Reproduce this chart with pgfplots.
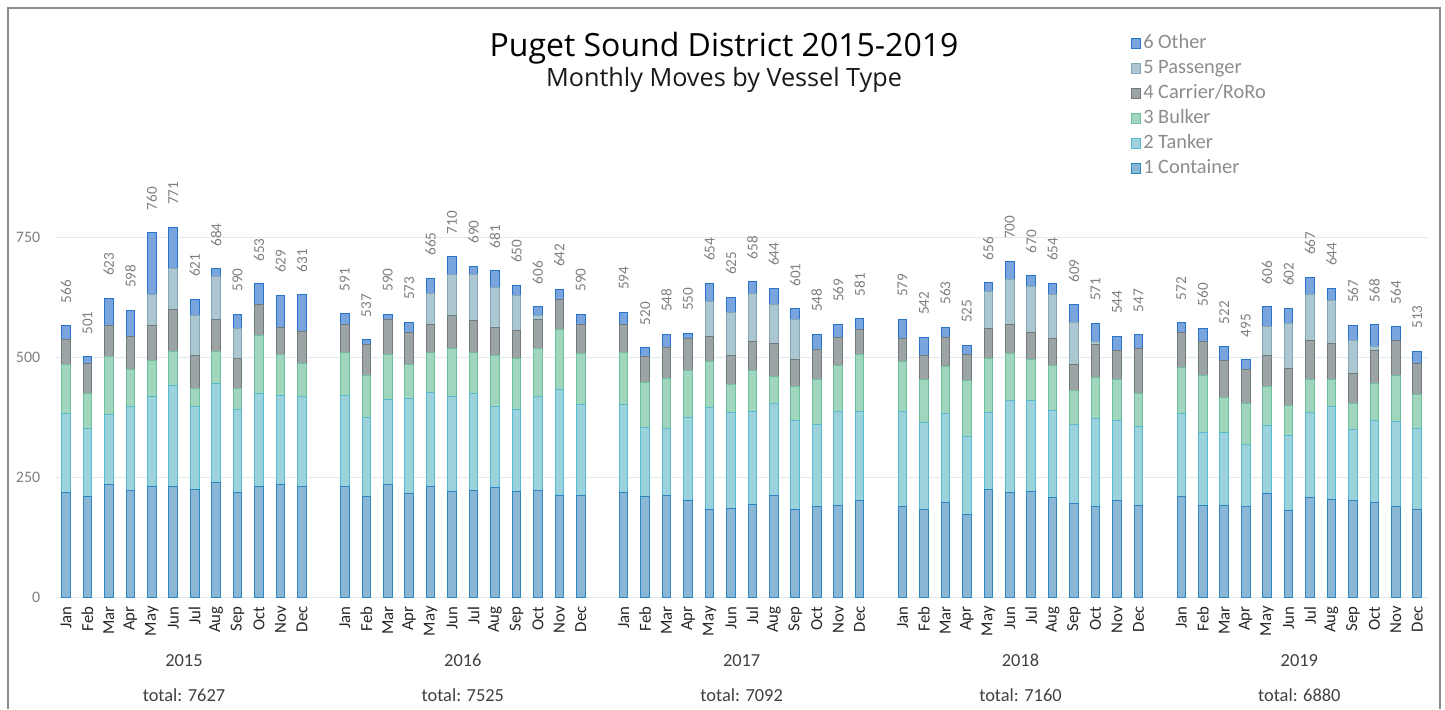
\documentclass[border=0pt]{standalone}
\usepackage{fontspec}
\setmainfont{Carlito}
\newfontfamily\titlefont{Open Sans}
\usepackage{pgfplots}
\usepackage{pgfplotstable}
\pgfplotsset{compat=1.18}
\pgfplotsset{/pgf/number format/assume math mode=true}

\definecolor{conF}{RGB}{139,183,214}\definecolor{conD}{RGB}{46,134,193}
\definecolor{tanF}{RGB}{155,210,220}\definecolor{tanD}{RGB}{88,186,206}
\definecolor{bulF}{RGB}{160,214,190}\definecolor{bulD}{RGB}{112,190,158}
\definecolor{carF}{RGB}{156,164,166}\definecolor{carD}{RGB}{112,122,124}
\definecolor{pasF}{RGB}{172,199,210}\definecolor{pasD}{RGB}{130,168,182}
\definecolor{othF}{RGB}{122,164,222}\definecolor{othD}{RGB}{40,116,200}
\definecolor{gridc}{RGB}{222,236,242}
\definecolor{txtgray}{RGB}{128,128,128}
\definecolor{txtdark}{RGB}{64,64,64}

% pos = slot on the x axis (one empty slot between years)
\pgfplotstableread{
pos con tan bul car pas oth tot
0 218 165 101 53 0 29 566
1 210 142 72 63 0 14 501
2 234 146 121 66 0 56 623
3 222 175 78 68 0 55 598
4 231 187 75 74 63 130 760
5 231 211 70 88 85 86 771
6 225 172 38 68 85 33 621
7 240 206 66 67 89 16 684
8 218 174 43 63 62 30 590
9 231 194 120 65 0 43 653
10 234 187 84 57 0 67 629
11 231 187 69 66 0 78 631
13 231 190 89 59 0 22 591
14 210 165 88 64 0 10 537
15 234 178 93 74 0 11 590
16 217 198 69 67 0 22 573
17 231 195 84 59 64 32 665
18 220 198 101 69 85 37 710
19 222 202 86 66 97 17 690
20 228 169 106 59 84 35 681
21 220 172 106 58 72 22 650
22 222 196 101 60 9 18 606
23 213 220 125 63 0 21 642
24 213 188 107 61 0 21 590
26 218 183 109 59 0 25 594
27 210 144 93 54 0 19 520
28 213 139 104 65 0 27 548
29 201 174 97 68 0 10 550
30 183 213 95 53 72 38 654
31 185 200 59 59 90 32 625
32 194 194 84 61 100 25 658
33 213 190 58 67 83 33 644
34 183 186 70 57 83 22 601
35 189 172 93 63 0 31 548
36 192 195 95 60 0 27 569
37 201 186 118 53 0 23 581
39 190 197 104 49 0 39 579
40 183 181 89 50 0 39 542
41 197 186 98 61 0 21 563
42 172 163 116 54 0 20 525
43 225 160 113 62 78 18 656
44 218 191 99 61 93 38 700
45 220 189 87 55 96 23 670
46 208 182 92 58 90 24 654
47 196 165 69 55 87 37 609
48 189 184 85 68 7 38 571
49 201 168 85 60 0 30 544
50 192 164 68 95 0 28 547
52 210 173 95 73 0 21 572
53 192 152 118 71 0 27 560
54 192 151 74 77 0 28 522
55 189 130 85 70 0 21 495
56 217 140 83 63 61 42 606
57 181 157 61 78 94 31 602
58 208 177 69 82 94 37 667
59 204 193 56 76 90 25 644
60 201 148 54 64 69 31 567
61 197 172 77 68 8 46 568
62 190 176 97 73 0 28 564
63 183 169 71 64 0 26 513
}\moves

\def\months{Jan,Feb,Mar,Apr,May,Jun,Jul,Aug,Sep,Oct,Nov,Dec}

\pgfplotsset{frame/.style={
  at={(27.65pt,55.85pt)}, anchor=south west,
  scale only axis, width=686.35pt, height=240pt,
  xmin=-0.5, xmax=63.5, ymin=0, ymax=1000, clip=false}}

\begin{document}
\begin{tikzpicture}
% picture in reference pixels: 1 px = 0.5pt, y measured from the top
\path[use as bounding box] (0,0) rectangle (722.5pt,354.5pt);
\draw[color=black!45, line width=0.6pt] (4pt,0) -- (4pt,350.5pt) -- (720pt,350.5pt) -- (720pt,0);

\node[font=\titlefont\fontsize{16}{18}\selectfont, text=black] at (362pt,330.5pt) {Puget Sound District 2015-2019};
\node[font=\titlefont\fontsize{12.6}{14}\selectfont, text=black!90] at (362pt,314.5pt) {Monthly Moves by Vessel Type};

\begin{axis}[
  frame,
  ybar stacked, bar width=4.3pt,
  axis line style={draw=none},
  major tick length=0pt,
  ytick={0,250,500,750},
  ymajorgrids, grid style={gridc, line width=0.6pt},
  yticklabel style={font=\fontsize{8}{9}\selectfont, text=txtgray, xshift=-4pt},
  xtick=data,
  xticklabels/.expanded={\months,\months,\months,\months,\months},
  xticklabel style={rotate=90, anchor=east, font=\fontsize{8.4}{9}\selectfont, text=black!85, xshift=-1pt},
  legend style={at={(0.779,1.187)}, anchor=north west, draw=none, fill=none,
    font=\fontsize{10.2}{11}\selectfont, text=black!45, row sep=1pt,
    nodes={inner sep=1pt, text height=7.5pt, text depth=2pt}},
  reverse legend,
  legend cell align=left,
  legend image code/.code={\draw[#1, line width=0.5pt] (0pt,-2.3pt) rectangle (4.6pt,2.3pt);},
]
\addplot[fill=conF, draw=conD, line width=0.5pt] table[x=pos, y=con] {\moves};
\addplot[fill=tanF, draw=tanD, line width=0.5pt] table[x=pos, y=tan] {\moves};
\addplot[fill=bulF, draw=bulD, line width=0.5pt] table[x=pos, y=bul] {\moves};
\addplot[fill=carF, draw=carD, line width=0.5pt] table[x=pos, y=car] {\moves};
\addplot[fill=pasF, draw=pasD, line width=0.5pt] table[x=pos, y=pas] {\moves};
\addplot[fill=othF, draw=othD, line width=0.5pt] table[x=pos, y=oth] {\moves};
\legend{1 Container, 2 Tanker, 3 Bulker, 4 Carrier/RoRo, 5 Passenger, 6 Other}

\node[font=\fontsize{9.2}{10}\selectfont, text=txtdark] at (axis cs:5.5,-131) {2015};
\node[font=\fontsize{9.2}{10}\selectfont, text=txtdark] at (axis cs:18.5,-131) {2016};
\node[font=\fontsize{9.2}{10}\selectfont, text=txtdark] at (axis cs:31.5,-131) {2017};
\node[font=\fontsize{9.2}{10}\selectfont, text=txtdark] at (axis cs:44.5,-131) {2018};
\node[font=\fontsize{9.2}{10}\selectfont, text=txtdark] at (axis cs:57.5,-131) {2019};
\node[font=\fontsize{9.2}{10}\selectfont, text=txtdark] at (axis cs:5.5,-203) {total: 7627};
\node[font=\fontsize{9.2}{10}\selectfont, text=txtdark] at (axis cs:18.5,-203) {total: 7525};
\node[font=\fontsize{9.2}{10}\selectfont, text=txtdark] at (axis cs:31.5,-203) {total: 7092};
\node[font=\fontsize{9.2}{10}\selectfont, text=txtdark] at (axis cs:44.5,-203) {total: 7160};
\node[font=\fontsize{9.2}{10}\selectfont, text=txtdark] at (axis cs:57.5,-203) {total: 6880};
\end{axis}

% totals above the bars, on an overlaid axis of the same frame
\begin{axis}[frame, hide axis]
\addplot[draw=none, mark=none,
  nodes near coords, point meta=explicit,
  every node near coord/.append style={yshift=11pt, rotate=90, anchor=west, text=txtgray,
    font=\fontsize{7.6}{9}\selectfont, inner sep=0pt}]
  table[x=pos, y=tot, meta=tot] {\moves};
\end{axis}
\end{tikzpicture}
\end{document}
